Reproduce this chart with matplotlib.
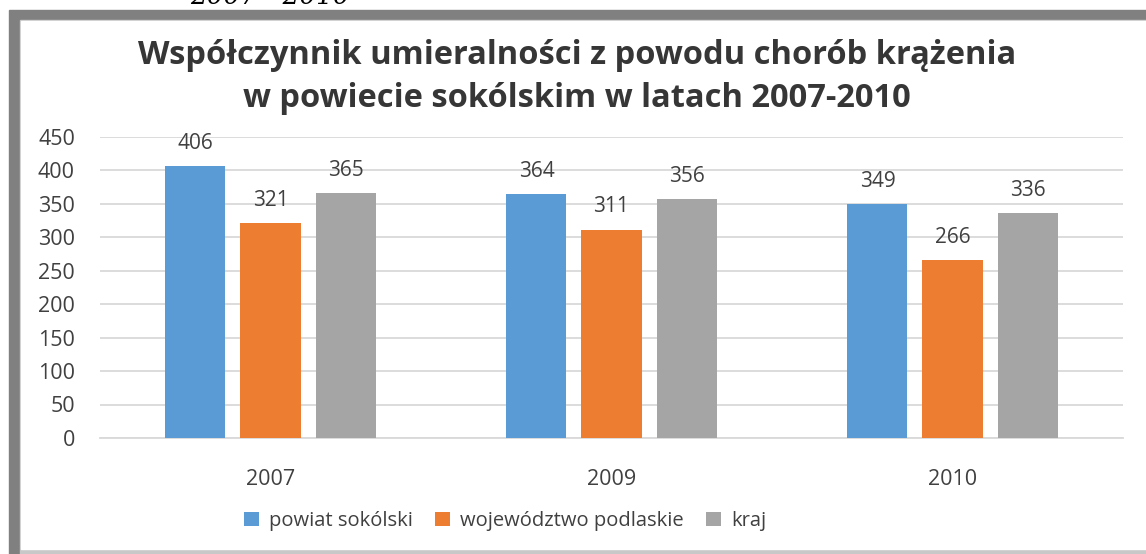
import numpy as np
import matplotlib.pyplot as plt
from matplotlib.patches import Rectangle

# ── data ──────────────────────────────────────────────────────────────────────
years  = ["2007", "2009", "2010"]
series = ["powiat sokólski", "województwo podlaskie", "kraj"]
powiat = [406, 364, 349]
woj    = [321, 311, 266]
kraj   = [365, 356, 336]
colors = ["#5B9BD5", "#ED7D31", "#A5A5A5"]
yticks = [0, 50, 100, 150, 200, 250, 300, 350, 400, 450]

title = "Współczynnik umieralności z powodu chorób krążenia\nw powiecie sokólskim w latach 2007-2010"
TXT = "#404040"

W, H = 1146, 554
fig = plt.figure(figsize=(W / 100, H / 100), dpi=100)

# ── frame (gray border like the pasted Excel chart) ───────────────────────────
def px(x0, y0, x1, y1):
    # pixel box (top-left origin) -> figure fraction rect
    return (x0 / W, 1 - y1 / H), (x1 - x0) / W, (y1 - y0) / H

xy, w, h = px(9, 10, W + 5, H + 5)
fig.patches.append(Rectangle(xy, w, h, transform=fig.transFigure, color="#808080", zorder=-3))
xy, w, h = px(20, 20, W + 5, 554)
fig.patches.append(Rectangle(xy, w, h, transform=fig.transFigure, color="#C8C8C8", zorder=-2))
xy, w, h = px(21, 21, W + 5, 549)
fig.patches.append(Rectangle(xy, w, h, transform=fig.transFigure, color="white", zorder=-1))

# cut-off text from the page above
fig.text(270 / W, 1 - 4 / H, "2007 - 2010", ha="center", va="baseline",
         fontsize=19, family="DejaVu Serif", style="italic", color="black")

# ── axes ──────────────────────────────────────────────────────────────────────
ax = fig.add_axes([100 / W, 1 - 438 / H, 1023 / W, 301.5 / H])
ax.set_zorder(2)
ax.set_facecolor("none")

x = np.arange(len(years))
bw = 0.176
offs = [-0.22, 0.0, 0.22]
for vals, name, c, o in zip([powiat, woj, kraj], series, colors, offs):
    bars = ax.bar(x + o, vals, width=bw, color=c, label=name, zorder=3)
    for b, v in zip(bars, vals):
        ax.text(b.get_x() + b.get_width() / 2, v + 34, str(v), ha="center",
                va="center", fontsize=15, color=TXT, family="Open Sans")

ax.set_xlim(-0.5, 2.5)
ax.set_ylim(0, 450)
ax.set_yticks(yticks)
ax.set_xticks(x)
ax.set_xticklabels(years)
ax.yaxis.grid(True, color="#D9D9D9", linewidth=1.3, zorder=0)
ax.set_axisbelow(True)
for s in ["top", "right", "left"]:
    ax.spines[s].set_visible(False)
ax.spines["bottom"].set_color("#D9D9D9")
ax.spines["bottom"].set_linewidth(1.3)
ax.tick_params(axis="both", length=0, labelsize=15.5, labelcolor=TXT)
ax.tick_params(axis="y", pad=18)
ax.tick_params(axis="x", pad=22)
for lab in ax.get_xticklabels() + ax.get_yticklabels():
    lab.set_family("Open Sans")

fig.text(577 / W, 1 - 77 / H, title, ha="center", va="center", fontsize=23.5,
         fontweight="bold", color="#363636", family="Open Sans", linespacing=1.38)

leg = fig.legend(loc="center", bbox_to_anchor=(505 / W, 1 - 521 / H), ncol=3,
                 frameon=False, handlelength=0.75, handleheight=0.75,
                 handletextpad=0.5, columnspacing=1.1,
                 prop={"family": "Open Sans", "size": 14.5})
for t in leg.get_texts():
    t.set_color(TXT)

plt.savefig("out.png", dpi=100)
